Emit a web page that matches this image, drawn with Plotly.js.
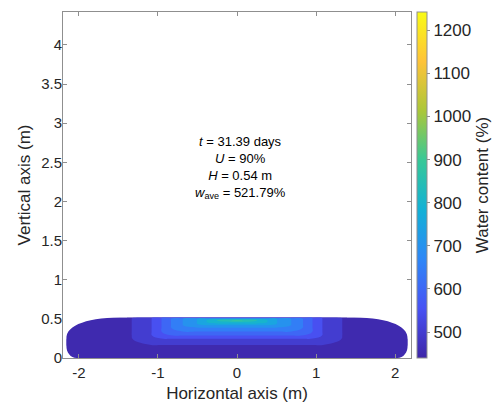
<!DOCTYPE html>
<html>
<head>
<meta charset="utf-8">
<script src="https://cdn.plot.ly/plotly-3.0.1.min.js"></script>
<style>html,body{margin:0;padding:0;background:#fff;}#chart{width:497px;height:403px;}</style>
</head>
<body>
<div id="chart"></div>
<script>
// ---- data ----
const xGrid = [-2.16,-1.5,-1.31,-1.07,-0.95,-0.83,-0.68,-0.5,-0.38,-0.25,0,0.25,0.38,0.5,0.68,0.83,0.95,1.07,1.31,1.5,2.16];
const yGrid = [0,0.1,0.17,0.25,0.29,0.34,0.39,0.42,0.44,0.46,0.48,0.50,0.51,0.52];
const waterContent = [
 [450,450,450,450,450,450,450,450,450,450,450,450,450,450,450,450,450,450,450,450,450],
 [455,474,474,474,474,474,474,474,474,474,474,474,474,474,474,474,474,474,474,474,455],
 [455,484,488,502,502,502,502,502,502,502,502,502,502,502,502,502,502,502,488,484,455],
 [455,484,502,538,552,552,552,552,552,552,552,552,552,552,552,552,552,538,502,484,455],
 [455,484,502,552,590,602,602,602,602,602,602,602,602,602,602,602,590,552,502,484,455],
 [455,484,502,552,602,640,652,652,652,652,652,652,652,652,652,640,602,552,502,484,455],
 [455,484,502,552,602,652,690,702,702,702,702,702,702,702,690,652,602,552,502,484,455],
 [455,484,502,552,602,652,702,740,752,752,752,752,752,740,702,652,602,552,502,484,455],
 [455,484,502,552,602,652,702,752,790,802,802,802,790,752,702,652,602,552,502,484,455],
 [455,484,502,552,602,652,702,752,802,840,852,840,802,752,702,652,602,552,502,484,455],
 [455,484,502,552,602,652,702,752,802,852,920,852,802,752,702,652,602,552,502,484,455],
 [455,484,502,552,602,652,702,752,790,790,790,790,790,752,702,652,602,552,502,484,455],
 [455,484,502,552,602,640,640,640,640,640,640,640,640,640,640,640,602,552,502,484,455],
 [455,470,470,470,470,470,470,470,470,470,470,470,470,470,470,470,470,470,470,470,455]
];
const levelStart = 500, levelEnd = 900, levelStep = 50;
const cMin = 440, cMax = 1242;
const xTicks = [-2,-1,0,1,2];
const xTickText = ['-2','-1','0','1','2'];
const yTicks = [0,0.5,1,1.5,2,2.5,3,3.5,4];
const yTickText = ['0','0.5','1','1.5','2','2.5','3','3.5','4'];
const cbTicks = [500,600,700,800,900,1000,1100,1200];
const infoText = '<i>t</i> = 31.39 days<br><i>U</i> = 90%<br><i>H</i> = 0.54 m<br><i>w</i><sub>ave</sub> = 521.79%';

// ---- parula colormap ----
const parula = [[0,'#3e26a8'],[1/7,'#4852f4'],[2/7,'#2e87f7'],[3/7,'#12b1d6'],[4/7,'#37c897'],[5/7,'#abc739'],[6/7,'#fec338'],[1,'#f9fb15']];
function hex2rgb(h){return [parseInt(h.slice(1,3),16),parseInt(h.slice(3,5),16),parseInt(h.slice(5,7),16)];}
function parulaAt(f){
  f=Math.max(0,Math.min(1,f));
  for(let i=0;i<parula.length-1;i++){
    const a=parula[i],b=parula[i+1];
    if(f<=b[0]){
      const t=(f-a[0])/(b[0]-a[0]);
      const ca=hex2rgb(a[1]),cb=hex2rgb(b[1]);
      const c=ca.map((v,k)=>Math.round(v+(cb[k]-v)*t));
      return 'rgb('+c.join(',')+')';
    }
  }
  return parula[parula.length-1][1];
}
// band [L, L+step] coloured like MATLAB contourf: colour of its lower level
const nLev = Math.round((levelEnd-levelStart)/levelStep)+1;
const contourScale = [];
for(let k=0;k<=nLev;k++){
  const low = levelStart - levelStep + k*levelStep;
  contourScale.push([k/nLev, parulaAt((low-cMin)/(cMax-cMin))]);
}

const font = 'Liberation Sans, Arial, Helvetica, sans-serif';
const txt = '#262626';
const frame = '#8f8f8f';

const traces = [
  {
    type:'contour', x:xGrid, y:yGrid, z:waterContent,
    autocontour:false,
    contours:{start:levelStart,end:levelEnd,size:levelStep,coloring:'fill',showlines:false},
    line:{width:0, smoothing:1.3},
    colorscale:contourScale, showscale:false, hoverinfo:'skip'
  },
  {
    type:'scatter', mode:'markers', x:[0], y:[-1], hoverinfo:'skip', showlegend:false,
    marker:{size:1, opacity:0, color:[cMin], cmin:cMin, cmax:cMax, colorscale:parula, showscale:true,
      colorbar:{
        thickness:10, len:1, lenmode:'fraction', x:1.017, xanchor:'left', xpad:0, y:0, yanchor:'bottom', ypad:0,
        outlinewidth:1, outlinecolor:frame,
        tickvals:cbTicks, ticks:'outside', ticklen:3, tickcolor:frame,
        tickfont:{family:font,size:17,color:txt},
        title:{text:'Water content (%)', side:'right', font:{family:font,size:17,color:txt}}
      }}
  }
];

const masks = [
  'M -2.2,0.24 L -2.16,0.24 C -2.16,0.43 -1.88,0.52 -1.39,0.52 L -1.39,0.56 L -2.2,0.56 Z',
  'M 2.2,0.24 L 2.16,0.24 C 2.16,0.43 1.88,0.52 1.39,0.52 L 1.39,0.56 L 2.2,0.56 Z',
  'M -2.2,0 L -2.2,0.16 L -2.16,0.16 C -2.16,0.072 -2.102,0 -2.03,0 Z',
  'M 2.2,0 L 2.2,0.16 L 2.16,0.16 C 2.16,0.072 2.102,0 2.03,0 Z'
].map(p=>({type:'path',path:p,xref:'x',yref:'y',fillcolor:'#ffffff',line:{width:0},layer:'above'}));

const layout = {
  width:497, height:403,
  margin:{l:63,r:86,t:12,b:45,autoexpand:false},
  paper_bgcolor:'#ffffff', plot_bgcolor:'#ffffff',
  showlegend:false,
  font:{family:font,color:txt},
  xaxis:{range:[-2.2,2.2], tickvals:xTicks, ticktext:xTickText, ticks:'inside', ticklen:4, tickcolor:frame,
    showline:true, linecolor:frame, linewidth:1, mirror:'ticks', showgrid:false, zeroline:false,
    tickfont:{family:font,size:15,color:txt}, ticklabelstandoff:1, automargin:false,
    title:{text:'Horizontal axis (m)', font:{family:font,size:17,color:txt}, standoff:7}},
  yaxis:{range:[0,4.42], tickvals:yTicks, ticktext:yTickText, ticks:'inside', ticklen:4, tickcolor:frame,
    showline:true, linecolor:frame, linewidth:1, mirror:'ticks', showgrid:false, zeroline:false,
    tickfont:{family:font,size:15,color:txt}, ticklabelstandoff:-3, automargin:false,
    title:{text:'Vertical axis (m)', font:{family:font,size:17,color:txt}, standoff:6}},
  shapes:masks,
  annotations:[{x:0.04, y:2.44, xref:'x', yref:'y', text:infoText, showarrow:false,
    font:{family:font,size:13,color:'#000'}, align:'center'}]
};

Plotly.newPlot('chart', traces, layout, {displayModeBar:false, staticPlot:true});
</script>
</body>
</html>
